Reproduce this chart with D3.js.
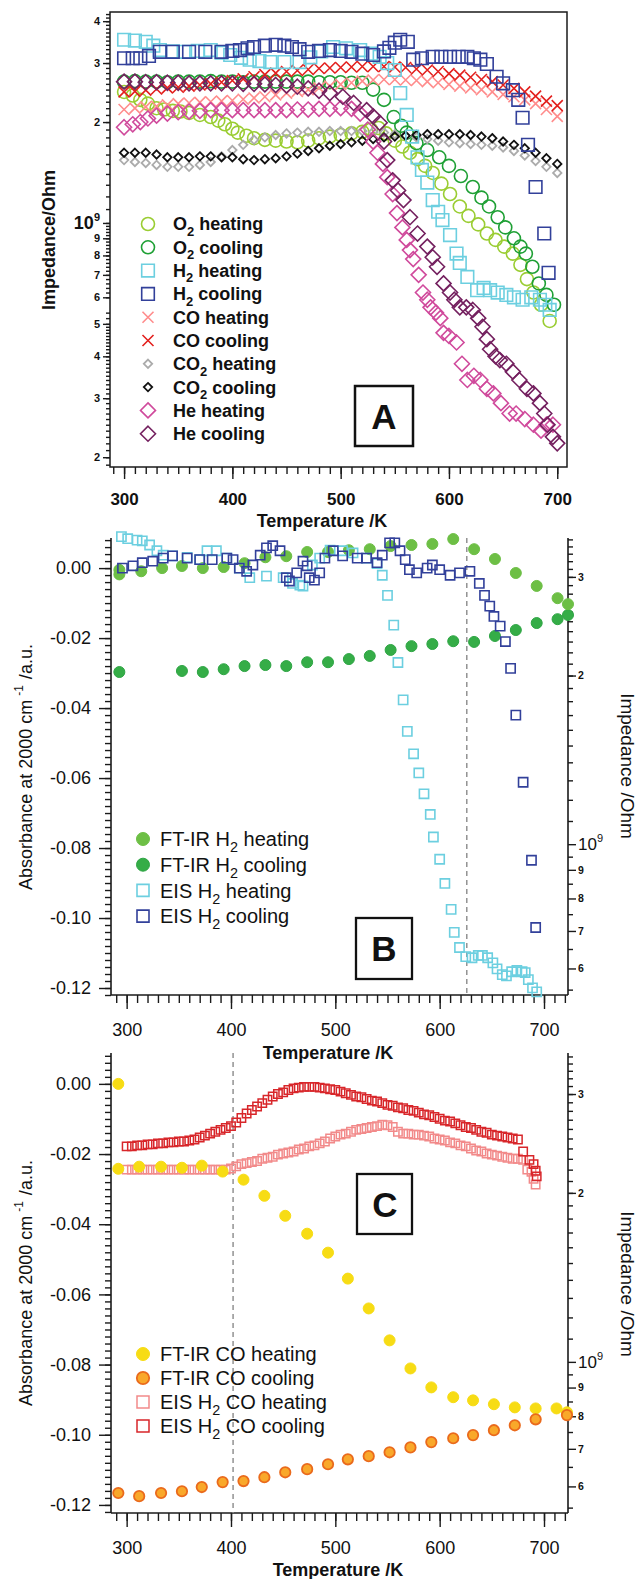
<!DOCTYPE html>
<html><head><meta charset="utf-8">
<script src="https://cdn.jsdelivr.net/npm/d3@7"></script>
<style>body{margin:0;background:#fff}svg{display:block}text{font-family:"Liberation Sans",Arial,sans-serif;fill:#111}</style>
</head><body><svg id="c" width="638" height="1579"></svg>
<script>
// ---------- Panel A data: [Temperature K, Impedance in 1e9 Ohm] ----------
const o2Heating = [[300,2.46],[308,2.40],[315,2.33],[322,2.27],[330,2.20],[337,2.18],[345,2.16],[352,2.15],[360,2.13],[370,2.10],[380,2.07],[387,2.02],[393,1.97],[400,1.91],[405,1.86],[413,1.82],[420,1.79],[430,1.77],[440,1.76],[450,1.75],[460,1.74],[470,1.76],[480,1.79],[490,1.81],[500,1.83],[510,1.85],[520,1.87],[528,1.90],[535,1.92],[542,1.85],[550,1.76],[557,1.69],[564,1.62],[571,1.55],[578,1.48],[585,1.41],[593,1.31],[601,1.22],[610,1.12],[618,1.05],[627,0.99],[635,0.93],[643,0.89],[651,0.85],[659,0.81],[666,0.75],[672,0.68],[678,0.62],[685,0.57],[693,0.51]];
const o2Cooling = [[300,2.64],[310,2.65],[320,2.64],[330,2.64],[340,2.63],[350,2.64],[360,2.64],[370,2.64],[380,2.65],[390,2.64],[400,2.64],[410,2.63],[420,2.64],[430,2.64],[440,2.64],[450,2.64],[460,2.64],[470,2.64],[480,2.63],[490,2.63],[500,2.63],[510,2.62],[520,2.62],[530,2.50],[540,2.33],[549,2.07],[556,1.95],[561,1.86],[570,1.73],[580,1.65],[591,1.57],[600,1.48],[611,1.38],[622,1.28],[630,1.19],[637,1.12],[645,1.04],[652,0.97],[660,0.90],[666,0.85],[671,0.81],[677,0.74],[683,0.66],[690,0.61],[697,0.57]];
const h2Heating = [[300,3.52],[310,3.50],[320,3.47],[327,3.38],[333,3.28],[345,3.25],[355,3.24],[368,3.26],[380,3.28],[390,3.22],[398,3.17],[408,3.11],[416,3.07],[425,3.04],[435,3.02],[448,3.02],[462,3.02],[472,3.12],[482,3.25],[493,3.35],[505,3.32],[518,3.28],[528,3.20],[536,3.13],[543,3.00],[550,2.86],[555,2.44],[561,2.10],[566,1.81],[571,1.57],[575,1.44],[580,1.32],[585,1.17],[590,1.08],[594,1.02],[601,0.92],[607,0.81],[610,0.76],[617,0.69],[626,0.63],[632,0.64],[638,0.63],[645,0.62],[653,0.61],[660,0.60],[668,0.59],[676,0.60],[684,0.59],[689,0.57],[693,0.55]];
const h2Cooling = [[300,3.10],[308,3.10],[315,3.10],[323,3.15],[333,3.24],[345,3.24],[360,3.24],[375,3.24],[390,3.24],[400,3.26],[407,3.28],[414,3.32],[420,3.35],[430,3.38],[440,3.40],[448,3.38],[455,3.35],[462,3.30],[470,3.24],[480,3.26],[490,3.28],[500,3.26],[510,3.24],[520,3.20],[530,3.17],[540,3.25],[545,3.33],[550,3.45],[555,3.52],[562,3.47],[567,3.07],[575,3.10],[585,3.13],[593,3.13],[601,3.13],[609,3.13],[617,3.13],[623,3.10],[629,3.07],[635,2.98],[644,2.73],[650,2.61],[659,2.49],[664,2.33],[668,2.06],[673,1.71],[680,1.28],[688,0.93],[692,0.71]];
const coHeating = [[300,2.18],[310,2.20],[320,2.22],[330,2.23],[340,2.25],[350,2.27],[360,2.28],[370,2.29],[380,2.30],[390,2.31],[400,2.32],[410,2.34],[420,2.36],[430,2.38],[440,2.41],[450,2.44],[460,2.47],[470,2.50],[480,2.53],[490,2.56],[500,2.59],[510,2.62],[520,2.65],[530,2.67],[540,2.68],[550,2.68],[560,2.67],[570,2.66],[580,2.64],[590,2.62],[600,2.59],[610,2.56],[620,2.53],[630,2.50],[640,2.46],[650,2.42],[660,2.38],[670,2.33],[680,2.27],[690,2.18],[700,2.08]];
const coCooling = [[300,2.46],[310,2.47],[320,2.49],[330,2.51],[340,2.53],[350,2.54],[360,2.56],[370,2.58],[380,2.60],[390,2.63],[400,2.66],[410,2.69],[420,2.73],[430,2.77],[440,2.80],[450,2.83],[460,2.85],[470,2.87],[480,2.89],[490,2.90],[500,2.91],[510,2.92],[520,2.93],[530,2.93],[540,2.93],[550,2.92],[560,2.91],[570,2.88],[580,2.86],[590,2.83],[600,2.79],[610,2.76],[620,2.72],[630,2.68],[640,2.64],[650,2.58],[660,2.52],[670,2.46],[680,2.39],[690,2.31],[700,2.24]];
const co2Heating = [[300,1.54],[310,1.52],[320,1.51],[330,1.49],[340,1.47],[350,1.47],[360,1.47],[370,1.49],[380,1.52],[390,1.58],[400,1.65],[410,1.71],[420,1.77],[430,1.80],[440,1.83],[450,1.85],[460,1.86],[470,1.87],[480,1.87],[490,1.88],[500,1.88],[510,1.88],[520,1.88],[530,1.87],[540,1.86],[550,1.84],[560,1.82],[570,1.80],[580,1.78],[590,1.76],[600,1.74],[610,1.73],[620,1.72],[630,1.71],[640,1.70],[650,1.68],[660,1.64],[670,1.59],[680,1.53],[690,1.47],[700,1.41]];
const co2Cooling = [[300,1.62],[310,1.62],[320,1.62],[330,1.60],[340,1.57],[350,1.57],[360,1.57],[370,1.58],[380,1.58],[390,1.57],[400,1.57],[410,1.55],[420,1.54],[430,1.55],[440,1.56],[450,1.58],[460,1.61],[470,1.64],[480,1.67],[490,1.70],[500,1.72],[510,1.74],[520,1.76],[530,1.78],[540,1.80],[550,1.81],[560,1.82],[570,1.83],[580,1.84],[590,1.84],[600,1.84],[610,1.84],[620,1.83],[630,1.81],[640,1.79],[650,1.75],[660,1.71],[670,1.67],[680,1.62],[690,1.56],[700,1.50]];
const heHeating = [[300,1.93],[308,1.97],[315,2.00],[322,2.05],[330,2.09],[340,2.12],[350,2.14],[360,2.15],[370,2.16],[380,2.17],[390,2.17],[400,2.17],[410,2.17],[420,2.17],[430,2.17],[440,2.17],[450,2.17],[460,2.18],[470,2.18],[480,2.19],[490,2.19],[500,2.20],[510,2.19],[518,2.12],[525,1.90],[530,1.75],[534,1.62],[539,1.50],[543,1.37],[548,1.22],[552,1.07],[557,0.97],[561,0.89],[564,0.83],[567,0.78],[572,0.70],[576,0.62],[580,0.59],[583,0.56],[588,0.54],[592,0.52],[595,0.47],[600,0.46],[607,0.44],[612,0.38],[617,0.34],[623,0.35],[629,0.34],[635,0.32],[641,0.31],[648,0.29],[656,0.27],[662,0.27],[670,0.26],[678,0.25],[685,0.24],[690,0.25],[696,0.25]];
const heCooling = [[300,2.64],[310,2.64],[320,2.63],[330,2.63],[340,2.62],[350,2.62],[360,2.61],[370,2.61],[380,2.61],[390,2.61],[400,2.61],[410,2.60],[420,2.60],[430,2.59],[440,2.58],[450,2.57],[460,2.55],[470,2.52],[480,2.48],[490,2.44],[502,2.38],[512,2.28],[524,2.17],[530,2.08],[536,1.99],[540,1.75],[543,1.54],[548,1.34],[553,1.25],[558,1.17],[564,1.04],[571,0.93],[580,0.85],[585,0.79],[589,0.74],[595,0.66],[601,0.62],[605,0.59],[610,0.56],[616,0.56],[622,0.55],[627,0.52],[631,0.49],[635,0.45],[638,0.42],[643,0.40],[647,0.39],[653,0.38],[659,0.36],[665,0.34],[672,0.32],[678,0.31],[684,0.29],[688,0.27],[691,0.25],[696,0.23],[700,0.22]];
const legendA = ["O_2 heating","O_2 cooling","H_2 heating","H_2 cooling","CO heating","CO cooling","CO_2 heating","CO_2 cooling","He heating","He cooling"];

// ---------- Panel B data ----------
const ftirH2Heating = [[293,-0.0005],[293,-0.0018],[314,-0.0009],[334,0.0000],[353,0.0006],[373,0.0000],[393,0.0003],[413,0.0014],[433,0.0031],[453,0.0034],[473,0.0046],[493,0.0046],[513,0.0051],[533,0.0054],[553,0.0063],[573,0.0066],[593,0.0069],[613,0.0083],[633,0.0054],[653,0.0026],[673,-0.0014],[693,-0.0051],[713,-0.0086],[723,-0.0103]];
const ftirH2Cooling = [[723,-0.0134],[713,-0.0146],[693,-0.0157],[673,-0.0177],[653,-0.0194],[633,-0.0211],[613,-0.0209],[593,-0.0217],[573,-0.0223],[553,-0.0234],[533,-0.0251],[513,-0.0260],[493,-0.0269],[473,-0.0269],[453,-0.0280],[433,-0.0277],[413,-0.0280],[393,-0.0289],[373,-0.0297],[353,-0.0294],[293,-0.0297]];
const eisH2Heating = [[295,3.54],[301,3.51],[310,3.49],[315,3.48],[322,3.42],[329,3.34],[335,3.28],[344,3.27],[358,3.25],[370,3.22],[377,3.34],[386,3.34],[396,3.24],[408,3.11],[418,2.99],[434,3.01],[450,2.99],[459,2.92],[466,2.90],[469,2.89],[478,3.15],[485,3.24],[495,3.35],[507,3.34],[517,3.31],[530,3.24],[540,3.17],[545,3.02],[550,2.78],[556,2.46],[560,2.11],[565,1.81],[569,1.59],[575,1.45],[580,1.34],[585,1.23],[591,1.13],[594,1.03],[600,0.94],[605,0.851],[611,0.765],[614,0.696],[619,0.654],[625,0.630],[631,0.627],[637,0.633],[641,0.633],[646,0.627],[651,0.614],[655,0.599],[660,0.585],[664,0.582],[669,0.592],[674,0.595],[679,0.592],[682,0.590],[685,0.573],[689,0.554],[693,0.545]];
const eisH2Cooling = [[296,3.11],[306,3.14],[315,3.18],[325,3.20],[335,3.24],[344,3.27],[358,3.24],[370,3.22],[382,3.22],[396,3.24],[402,3.22],[408,3.11],[415,3.07],[421,3.15],[428,3.28],[434,3.38],[440,3.41],[447,3.34],[453,2.99],[456,2.95],[463,3.05],[469,3.20],[473,3.14],[475,2.99],[480,2.96],[485,3.05],[490,3.24],[498,3.34],[507,3.27],[521,3.24],[530,3.24],[540,3.18],[545,3.28],[552,3.45],[557,3.45],[562,3.34],[567,3.22],[571,3.09],[578,3.05],[588,3.11],[593,3.15],[600,3.09],[610,3.02],[619,3.05],[629,3.07],[638,2.92],[643,2.78],[648,2.66],[652,2.55],[658,2.45],[663,2.30],[668,2.06],[673,1.70],[680,1.29],[688,0.936],[692,0.71]];
const legendB = ["FT-IR H_2 heating","FT-IR H_2 cooling","EIS H_2 heating","EIS H_2 cooling"];

// ---------- Panel C data ----------
const ftirCoHeating = [[292,0.0000],[292,-0.0242],[312,-0.0236],[333,-0.0236],[353,-0.0239],[372,-0.0233],[392,-0.0250],[412,-0.0273],[432,-0.0319],[452,-0.0376],[473,-0.0427],[493,-0.0481],[512,-0.0555],[532,-0.0640],[552,-0.0731],[572,-0.0811],[592,-0.0865],[613,-0.0893],[632,-0.0902],[652,-0.0913],[672,-0.0922],[692,-0.0925],[712,-0.0925],[722,-0.0936]];
const ftirCoCooling = [[292,-0.1166],[312,-0.1175],[333,-0.1166],[353,-0.1161],[372,-0.1149],[392,-0.1135],[412,-0.1132],[432,-0.1121],[452,-0.1107],[473,-0.1098],[493,-0.1084],[512,-0.1070],[532,-0.1061],[552,-0.1050],[572,-0.1036],[592,-0.1021],[613,-0.1010],[632,-0.1001],[652,-0.0987],[672,-0.0973],[692,-0.0956],[722,-0.0944]];
const eisCoHeating = [[300,2.20],[305,2.20],[310,2.20],[315,2.20],[320,2.20],[325,2.20],[330,2.20],[335,2.20],[340,2.20],[345,2.20],[350,2.20],[355,2.20],[360,2.20],[365,2.20],[370,2.20],[375,2.20],[380,2.20],[385,2.20],[390,2.20],[395,2.20],[400,2.21],[405,2.23],[410,2.25],[415,2.26],[420,2.27],[425,2.28],[430,2.30],[435,2.31],[440,2.32],[445,2.34],[450,2.35],[455,2.36],[460,2.37],[465,2.39],[470,2.40],[475,2.42],[480,2.43],[485,2.45],[490,2.47],[495,2.50],[500,2.52],[505,2.54],[510,2.55],[515,2.57],[520,2.59],[525,2.60],[530,2.61],[535,2.62],[540,2.63],[545,2.645],[550,2.64],[555,2.62],[560,2.57],[565,2.55],[570,2.55],[575,2.54],[580,2.54],[585,2.53],[590,2.52],[595,2.50],[600,2.49],[605,2.48],[610,2.46],[615,2.45],[620,2.43],[625,2.42],[630,2.40],[635,2.38],[640,2.37],[645,2.35],[650,2.34],[655,2.33],[660,2.32],[665,2.31],[670,2.30],[675,2.30],[680,2.29],[684,2.20],[688,2.18],[690,2.12],[692,2.07]];
const eisCoCooling = [[300,2.42],[305,2.42],[310,2.43],[315,2.43],[320,2.44],[325,2.44],[330,2.45],[335,2.45],[340,2.46],[345,2.46],[350,2.47],[355,2.47],[360,2.48],[365,2.49],[370,2.51],[375,2.53],[380,2.55],[385,2.57],[390,2.59],[395,2.61],[400,2.63],[405,2.67],[410,2.72],[415,2.77],[420,2.81],[425,2.85],[430,2.89],[435,2.93],[440,2.97],[445,3.00],[450,3.02],[455,3.05],[460,3.07],[465,3.08],[470,3.09],[475,3.09],[480,3.09],[485,3.08],[490,3.07],[495,3.06],[500,3.05],[505,3.03],[510,3.01],[515,2.99],[520,2.97],[525,2.96],[530,2.94],[535,2.92],[540,2.91],[545,2.89],[550,2.87],[555,2.86],[560,2.84],[565,2.83],[570,2.81],[575,2.80],[580,2.78],[585,2.76],[590,2.75],[595,2.73],[600,2.71],[605,2.69],[610,2.68],[615,2.66],[620,2.64],[625,2.62],[630,2.61],[635,2.59],[640,2.57],[645,2.56],[650,2.54],[655,2.53],[660,2.52],[665,2.51],[670,2.50],[675,2.49],[680,2.37],[686,2.29],[690,2.25],[692,2.19],[693,2.14]];
const legendC = ["FT-IR CO heating","FT-IR CO cooling","EIS H_2 CO heating","EIS H_2 CO cooling"];

// ---------- ticks ----------
const xMajorA = [300,400,500,600,700];
const yMajorA = [0.2,0.3,0.4,0.5,0.6,0.7,0.8,0.9,1,2,3,4];
const yLabelsA = ["2","3","4","5","6","7","8","9","10|9","2","3","4"];
const xMajorBC = [300,400,500,600,700];
const absTicks = [0,-0.02,-0.04,-0.06,-0.08,-0.10,-0.12];
const absLabels = ["0.00","-0.02","-0.04","-0.06","-0.08","-0.10","-0.12"];
const impMajorBC = [0.6,0.7,0.8,0.9,1,2,3];
const impLabelsBC = ["6","7","8","9","10|9","2","3"];

// ---------- drawing ----------
const svg = d3.select("#c");
const AX = "#1a1a1a";

function mpath(shape, s) {
  if (shape === "circle") return `M${-s},0A${s},${s} 0 1,0 ${s},0A${s},${s} 0 1,0 ${-s},0Z`;
  if (shape === "square") return `M${-s},${-s}H${s}V${s}H${-s}Z`;
  if (shape === "diamond") return `M0,${-s}L${s},0L0,${s}L${-s},0Z`;
  if (shape === "x") return `M${-s},${-s}L${s},${s}M${-s},${s}L${s},${-s}`;
}
function plot(g, data, x, y, st) {
  g.append("g").selectAll("path").data(data).join("path")
    .attr("transform", d => `translate(${x(d[0])},${y(d[1])})`)
    .attr("d", mpath(st.shape, st.size))
    .attr("fill", st.fill || "none").attr("stroke", st.stroke).attr("stroke-width", st.sw || 1.6);
}
function richText(sel, label, fs) {
  const parts = label.split(/_(\d)/);
  parts.forEach((p, i) => {
    if (p === "") return;
    if (i % 2 === 1) sel.append("tspan").attr("dy", fs * 0.3).attr("font-size", fs * 0.72).text(p);
    else sel.append("tspan").attr("dy", i > 0 ? -fs * 0.3 : 0).text(p);
  });
}
function legend(g, labels, styles, mx, tx, y0, dy, fs, weight) {
  labels.forEach((lab, i) => {
    const y = y0 + i * dy;
    g.append("path").attr("transform", `translate(${mx},${y})`).attr("d", mpath(styles[i].shape, styles[i].lsize || styles[i].size))
      .attr("fill", styles[i].fill || "none").attr("stroke", styles[i].stroke).attr("stroke-width", styles[i].sw || 1.6);
    const t = g.append("text").attr("x", tx).attr("y", y + fs * 0.36).attr("font-size", fs).attr("font-weight", weight);
    richText(t, lab, fs);
  });
}
function styleAxis(g) {
  g.select(".domain").remove();
  g.selectAll("line").attr("stroke", AX).attr("stroke-width", 1.4);
}
function pow9(g, labels, fsMain, fsSup) {
  g.selectAll(".tick text").each(function(d, i) {
    const lab = labels[i];
    const t = d3.select(this); t.text("");
    if (lab.includes("|")) {
      const [a, b] = lab.split("|");
      t.attr("font-size", fsMain);
      t.append("tspan").text(a);
      t.append("tspan").attr("dy", -fsMain * 0.45).attr("font-size", fsSup).text(b);
    } else t.text(lab);
  });
}

// ===== Panel A =====
const xA = d3.scaleLinear([287, 709], [110, 567]);
const yA = d3.scaleLog([0.187, 4.26], [467, 12]);
const gA = svg.append("g");
const minorYA = [];
for (let v = 0.19; v < 1; v += 0.01) { const r = Math.round(v * 100) / 100; if (r < 0.5 || Math.round(r * 50) === r * 50) minorYA.push(r); }
for (let v = 1; v <= 4.25; v += 0.1) minorYA.push(Math.round(v * 10) / 10);
gA.append("g").attr("transform", "translate(110,0)").call(d3.axisLeft(yA).tickValues(minorYA).tickSize(4).tickFormat("")).call(styleAxis);
const yAxA = gA.append("g").attr("transform", "translate(110,0)")
  .call(d3.axisLeft(yA).tickValues(yMajorA).tickSize(7).tickPadding(3)).call(styleAxis);
yAxA.selectAll("text").attr("font-size", 11).attr("font-weight", "bold").attr("fill", "#111").attr("font-family", "Liberation Sans, Arial");
pow9(yAxA, yLabelsA, 18, 11);
gA.append("g").attr("transform", "translate(0,467)").call(d3.axisBottom(xA).tickValues(d3.range(290, 710, 10)).tickSize(7).tickFormat("")).call(styleAxis);
const xAxA = gA.append("g").attr("transform", "translate(0,467)").call(d3.axisBottom(xA).tickValues(xMajorA).tickSize(12).tickPadding(14)).call(styleAxis);
xAxA.selectAll("text").attr("font-size", 17).attr("font-weight", "bold").attr("fill", "#111").attr("font-family", "Liberation Sans, Arial");
gA.append("rect").attr("x", 110).attr("y", 12).attr("width", 457).attr("height", 455).attr("fill", "none").attr("stroke", AX).attr("stroke-width", 1.5);

const stA = [
  {shape:"circle", size:6.5, stroke:"#9acd32"},
  {shape:"circle", size:6.5, stroke:"#1fa035"},
  {shape:"square", size:6.3, stroke:"#6ccfe0"},
  {shape:"square", size:6.3, stroke:"#32409a"},
  {shape:"x", size:5.5, stroke:"#ff8c8c"},
  {shape:"x", size:5.5, stroke:"#e3201e"},
  {shape:"diamond", size:4.2, stroke:"#ababab", sw:1.8},
  {shape:"diamond", size:4.2, stroke:"#111", sw:1.8},
  {shape:"diamond", size:7.5, stroke:"#d04a9c"},
  {shape:"diamond", size:7.5, stroke:"#74205f"}
];
const seriesA = [o2Heating, o2Cooling, coHeating, coCooling, co2Heating, co2Cooling, heHeating, heCooling, h2Heating, h2Cooling];
const orderA = [0,1,4,5,6,7,8,9,2,3];
orderA.forEach((si, k) => plot(gA, seriesA[k], xA, yA, stA[si]));
legend(gA, legendA, stA, 148, 173, 224, 23.3, 18, "bold");
gA.append("rect").attr("x", 355).attr("y", 386).attr("width", 58).attr("height", 60).attr("fill", "none").attr("stroke", "#111").attr("stroke-width", 2.5);
gA.append("text").attr("x", 384).attr("y", 429).attr("text-anchor", "middle").attr("font-size", 35).attr("font-weight", "bold").text("A");
gA.append("text").attr("x", 322).attr("y", 527).attr("text-anchor", "middle").attr("font-size", 18).attr("font-weight", "bold").text("Temperature /K");
gA.append("text").attr("transform", "translate(55,240) rotate(-90)").attr("text-anchor", "middle").attr("font-size", 18).attr("font-weight", "bold").text("Impedance/Ohm");

// ===== Panels B and C =====
function panelBC(top, bottom, absTop, absBottom, impDom, dashT) {
  const g = svg.append("g");
  const x = d3.scaleLinear([285, 723], [111, 568]);
  const yL = d3.scaleLinear([absBottom, absTop], [bottom, top]);
  const yR = d3.scaleLog(impDom, [bottom, top]);
  g.append("g").attr("transform", `translate(0,${bottom})`).call(d3.axisBottom(x).tickValues(d3.range(290, 730, 10)).tickSize(8).tickFormat("")).call(styleAxis);
  const xa = g.append("g").attr("transform", `translate(0,${bottom})`).call(d3.axisBottom(x).tickValues(xMajorBC).tickSize(14).tickPadding(14)).call(styleAxis);
  xa.selectAll("text").attr("font-size", 18).attr("fill", "#111").attr("font-family", "Liberation Sans, Arial");
  const minorL = d3.range(-0.122, 0.0088, 0.002).map(v => Math.round(v * 1000) / 1000);
  g.append("g").attr("transform", "translate(111,0)").call(d3.axisLeft(yL).tickValues(minorL).tickSize(6).tickFormat("")).call(styleAxis);
  const la = g.append("g").attr("transform", "translate(111,0)").call(d3.axisLeft(yL).tickValues(absTicks).tickSize(12).tickPadding(8).tickFormat((d, i) => absLabels[i])).call(styleAxis);
  la.selectAll("text").attr("font-size", 18).attr("fill", "#111").attr("font-family", "Liberation Sans, Arial");
  const minorR = [0.55,0.65,0.75,0.85,0.95];
  for (let v = 1.1; v < impDom[1]; v += 0.1) minorR.push(Math.round(v * 10) / 10);
  g.append("g").attr("transform", "translate(568,0)").call(d3.axisRight(yR).tickValues(minorR).tickSize(5).tickFormat("")).call(styleAxis);
  const ra = g.append("g").attr("transform", "translate(568,0)").call(d3.axisRight(yR).tickValues(impMajorBC).tickSize(8).tickPadding(2)).call(styleAxis);
  ra.selectAll("text").attr("font-size", 10.5).attr("font-weight", "bold").attr("fill", "#111").attr("font-family", "Liberation Sans, Arial");
  pow9(ra, impLabelsBC, 17, 11);
  ra.selectAll(".tick text").filter((d) => d === 1).attr("font-weight", "normal");
  g.append("line").attr("x1", 111).attr("x2", 111).attr("y1", top).attr("y2", bottom).attr("stroke", AX).attr("stroke-width", 1.6);
  g.append("line").attr("x1", 568).attr("x2", 568).attr("y1", top).attr("y2", bottom).attr("stroke", AX).attr("stroke-width", 1.6);
  g.append("line").attr("x1", 111).attr("x2", 568).attr("y1", bottom).attr("y2", bottom).attr("stroke", AX).attr("stroke-width", 1.6);
  g.append("line").attr("x1", x(dashT)).attr("x2", x(dashT)).attr("y1", top).attr("y2", bottom).attr("stroke", "#8a8a8a").attr("stroke-width", 1.4).attr("stroke-dasharray", "5,4");
  return {g, x, yL, yR};
}
function absTitle(g, cx, cy) {
  const t = g.append("text").attr("transform", `translate(${cx},${cy}) rotate(-90)`).attr("text-anchor", "middle").attr("font-size", 18);
  t.append("tspan").text("Absorbance at 2000 cm");
  t.append("tspan").attr("dy", -9).attr("dx", 4).attr("font-size", 12).text("-1");
  t.append("tspan").attr("dy", 9).attr("dx", 6).text("/a.u.");
}

// Panel B
const B = panelBC(538, 995, 0.0086, -0.122, [0.538, 3.52], 626);
const stB = [
  {shape:"circle", size:5.5, stroke:"#6dbf45", fill:"#6dbf45", sw:1, lsize:6.5},
  {shape:"circle", size:5.5, stroke:"#2ea544", fill:"#35ad47", sw:1, lsize:6.5},
  {shape:"square", size:4.6, stroke:"#6ccfe0", sw:1.6, lsize:6},
  {shape:"square", size:4.6, stroke:"#32409a", sw:1.6, lsize:6}
];
plot(B.g, ftirH2Cooling, B.x, B.yL, stB[1]);
plot(B.g, ftirH2Heating, B.x, B.yL, stB[0]);
plot(B.g, eisH2Heating, B.x, B.yR, stB[2]);
plot(B.g, eisH2Cooling, B.x, B.yR, stB[3]);
legend(B.g, legendB, stB, 143, 160, 839, 25.7, 20, "normal");
B.g.append("rect").attr("x", 356).attr("y", 918).attr("width", 56).attr("height", 61).attr("fill", "none").attr("stroke", "#111").attr("stroke-width", 2.3);
B.g.append("text").attr("x", 384).attr("y", 961).attr("text-anchor", "middle").attr("font-size", 35).attr("font-weight", "bold").text("B");
B.g.append("text").attr("x", 328).attr("y", 1059).attr("text-anchor", "middle").attr("font-size", 18).attr("font-weight", "bold").text("Temperature /K");
absTitle(B.g, 32, 767);
B.g.append("text").attr("transform", "translate(621,766) rotate(90)").attr("text-anchor", "middle").attr("font-size", 19).text("Impedance /Ohm");

// Panel C
const C = panelBC(1053, 1513, 0.0088, -0.1223, [0.538, 3.55], 402);
const stC = [
  {shape:"circle", size:5.5, stroke:"#f7dc14", fill:"#f7dc14", sw:1, lsize:6.5},
  {shape:"circle", size:5.2, stroke:"#ea6a1c", fill:"#f9a82a", sw:1.8, lsize:6.2},
  {shape:"square", size:4.2, stroke:"#f28a8a", sw:1.5, lsize:6},
  {shape:"square", size:4.2, stroke:"#d8262a", sw:1.5, lsize:6}
];
plot(C.g, eisCoHeating, C.x, C.yR, stC[2]);
plot(C.g, eisCoCooling, C.x, C.yR, stC[3]);
plot(C.g, ftirCoHeating, C.x, C.yL, stC[0]);
plot(C.g, ftirCoCooling, C.x, C.yL, stC[1]);
legend(C.g, legendC, stC, 143, 160, 1354, 24, 20, "normal");
C.g.append("rect").attr("x", 357).attr("y", 1174).attr("width", 55).attr("height", 60).attr("fill", "none").attr("stroke", "#111").attr("stroke-width", 2.3);
C.g.append("text").attr("x", 385).attr("y", 1217).attr("text-anchor", "middle").attr("font-size", 35).attr("font-weight", "bold").text("C");
C.g.append("text").attr("x", 338).attr("y", 1576).attr("text-anchor", "middle").attr("font-size", 18).attr("font-weight", "bold").text("Temperature /K");
absTitle(C.g, 32, 1283);
C.g.append("text").attr("transform", "translate(621,1284) rotate(90)").attr("text-anchor", "middle").attr("font-size", 19).text("Impedance /Ohm");
</script></body></html>
